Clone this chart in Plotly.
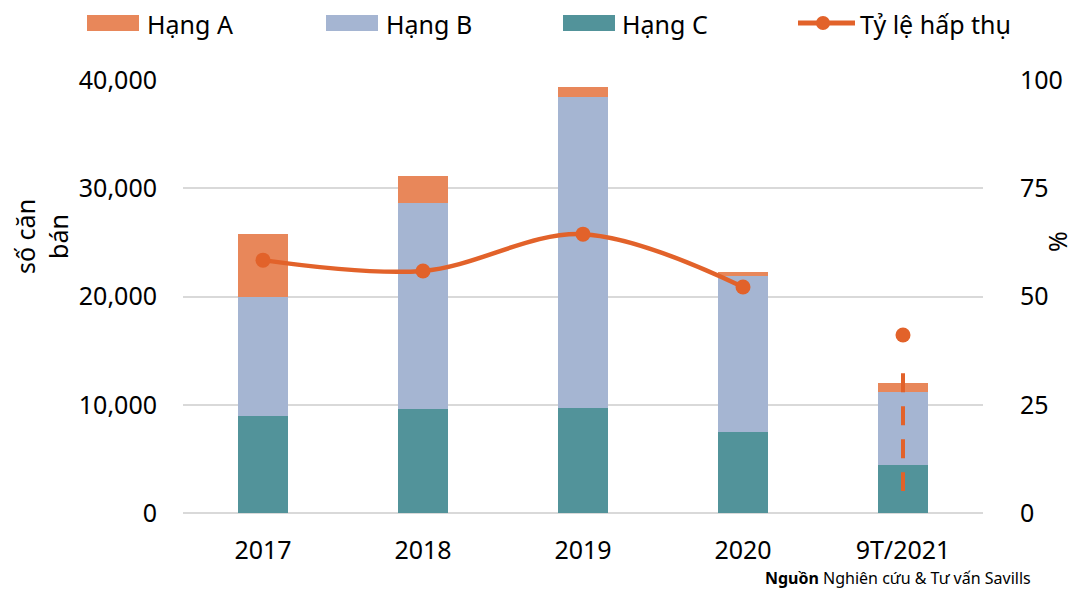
import plotly.graph_objects as go

years = ['2017', '2018', '2019', '2020', '9T/2021']
hang_c = [9000, 9600, 9700, 7500, 4450]
hang_b = [11000, 19000, 28700, 14400, 6750]
hang_a = [5800, 2500, 950, 350, 800]
ty_le = [58.4, 55.9, 64.4, 52.2]
ty_le_9t = [41.1]
dash_9t = [32.3, 5.1]

C_A = '#E8875A'
C_B = '#A5B5D2'
C_C = '#52939A'
ORANGE = '#E2622A'
FONT = 'Noto Sans'

# plot area in pixels (figure coords)
L, T, PW, PH = 175, 72, 800, 433


def px(x):
    return (x - L) / PW


def py(y):
    return (T + PH - y) / PH


fig = go.Figure()
fig.add_trace(go.Bar(x=years, y=hang_c, name='Hạng C', marker_color=C_C, marker_line_width=0))
fig.add_trace(go.Bar(x=years, y=hang_b, name='Hạng B', marker_color=C_B, marker_line_width=0))
fig.add_trace(go.Bar(x=years, y=hang_a, name='Hạng A', marker_color=C_A, marker_line_width=0))
fig.add_trace(go.Scatter(x=years[:4], y=ty_le, name='Tỷ lệ hấp thụ', yaxis='y2',
                         mode='lines+markers', line=dict(color=ORANGE, width=4.5, shape='spline'),
                         marker=dict(size=15, color=ORANGE)))
fig.add_trace(go.Scatter(x=years[4:], y=ty_le_9t, yaxis='y2', mode='markers',
                         marker=dict(size=15, color=ORANGE)))
fig.add_trace(go.Scatter(x=[years[4], years[4]], y=dash_9t, yaxis='y2', mode='lines',
                         line=dict(color=ORANGE, width=4, dash='19px,14px')))

# hand-made legend across the top
shapes = []
annots = []
for name, col, x0, tx in [('Hạng A', C_A, 79, 137), ('Hạng B', C_B, 318, 376),
                          ('Hạng C', C_C, 555, 612)]:
    shapes.append(dict(type='rect', xref='paper', yref='paper', x0=px(x0), x1=px(x0 + 52),
                       y0=py(23), y1=py(7), fillcolor=col, line_width=0))
    annots.append(dict(text=name, xref='paper', yref='paper', x=px(tx), y=py(16),
                       xanchor='left', yanchor='middle', showarrow=False, font=dict(size=25)))
shapes.append(dict(type='line', xref='paper', yref='paper', x0=px(790), x1=px(847),
                   y0=py(15), y1=py(15), line=dict(color=ORANGE, width=5)))
shapes.append(dict(type='circle', xref='paper', yref='paper', x0=px(808), x1=px(822),
                   y0=py(22), y1=py(8), fillcolor=ORANGE, line_width=0))
annots.append(dict(text='Tỷ lệ hấp thụ', xref='paper', yref='paper', x=px(850), y=py(16),
                   xanchor='left', yanchor='middle', showarrow=False, font=dict(size=25)))

annots += [
    dict(text='số căn<br>bán', xref='paper', yref='paper', x=px(33), y=py(229),
         xanchor='center', yanchor='middle', textangle=-90, showarrow=False,
         font=dict(size=25)),
    dict(text='%', xref='paper', yref='paper', x=px(1049), y=py(234),
         xanchor='center', yanchor='middle', textangle=-90, showarrow=False,
         font=dict(size=25)),
    dict(text='<b>Nguồn</b> Nghiên cứu & Tư vấn Savills', xref='paper', yref='paper',
         x=px(1025), y=py(570), xanchor='right', yanchor='middle', showarrow=False,
         font=dict(size=16)),
]

fig.update_layout(
    width=1069, height=582,
    barmode='stack', bargap=0.69, showlegend=False,
    plot_bgcolor='white', paper_bgcolor='white',
    font=dict(family=FONT, size=25, color='#000000'),
    margin=dict(l=L, r=1069 - L - PW, t=T, b=582 - T - PH, autoexpand=False),
    xaxis=dict(showgrid=False, showline=False, ticks='', tickfont=dict(size=25),
               ticklabelstandoff=20, automargin=False),
    yaxis=dict(range=[0, 40000], tickvals=[0, 10000, 20000, 30000, 40000],
               tickformat=',', gridcolor='#D9D9D9', gridwidth=1.5, zeroline=True,
               zerolinecolor='#D9D9D9', zerolinewidth=1.5, ticks='', tickfont=dict(size=25),
               ticklabelstandoff=25, automargin=False),
    yaxis2=dict(range=[0, 100], tickvals=[0, 25, 50, 75, 100], overlaying='y', side='right',
                showgrid=False, zeroline=False, ticks='', tickfont=dict(size=25),
                ticklabelstandoff=36, automargin=False),
    shapes=shapes,
    annotations=annots,
)

fig.write_html('out.html')
